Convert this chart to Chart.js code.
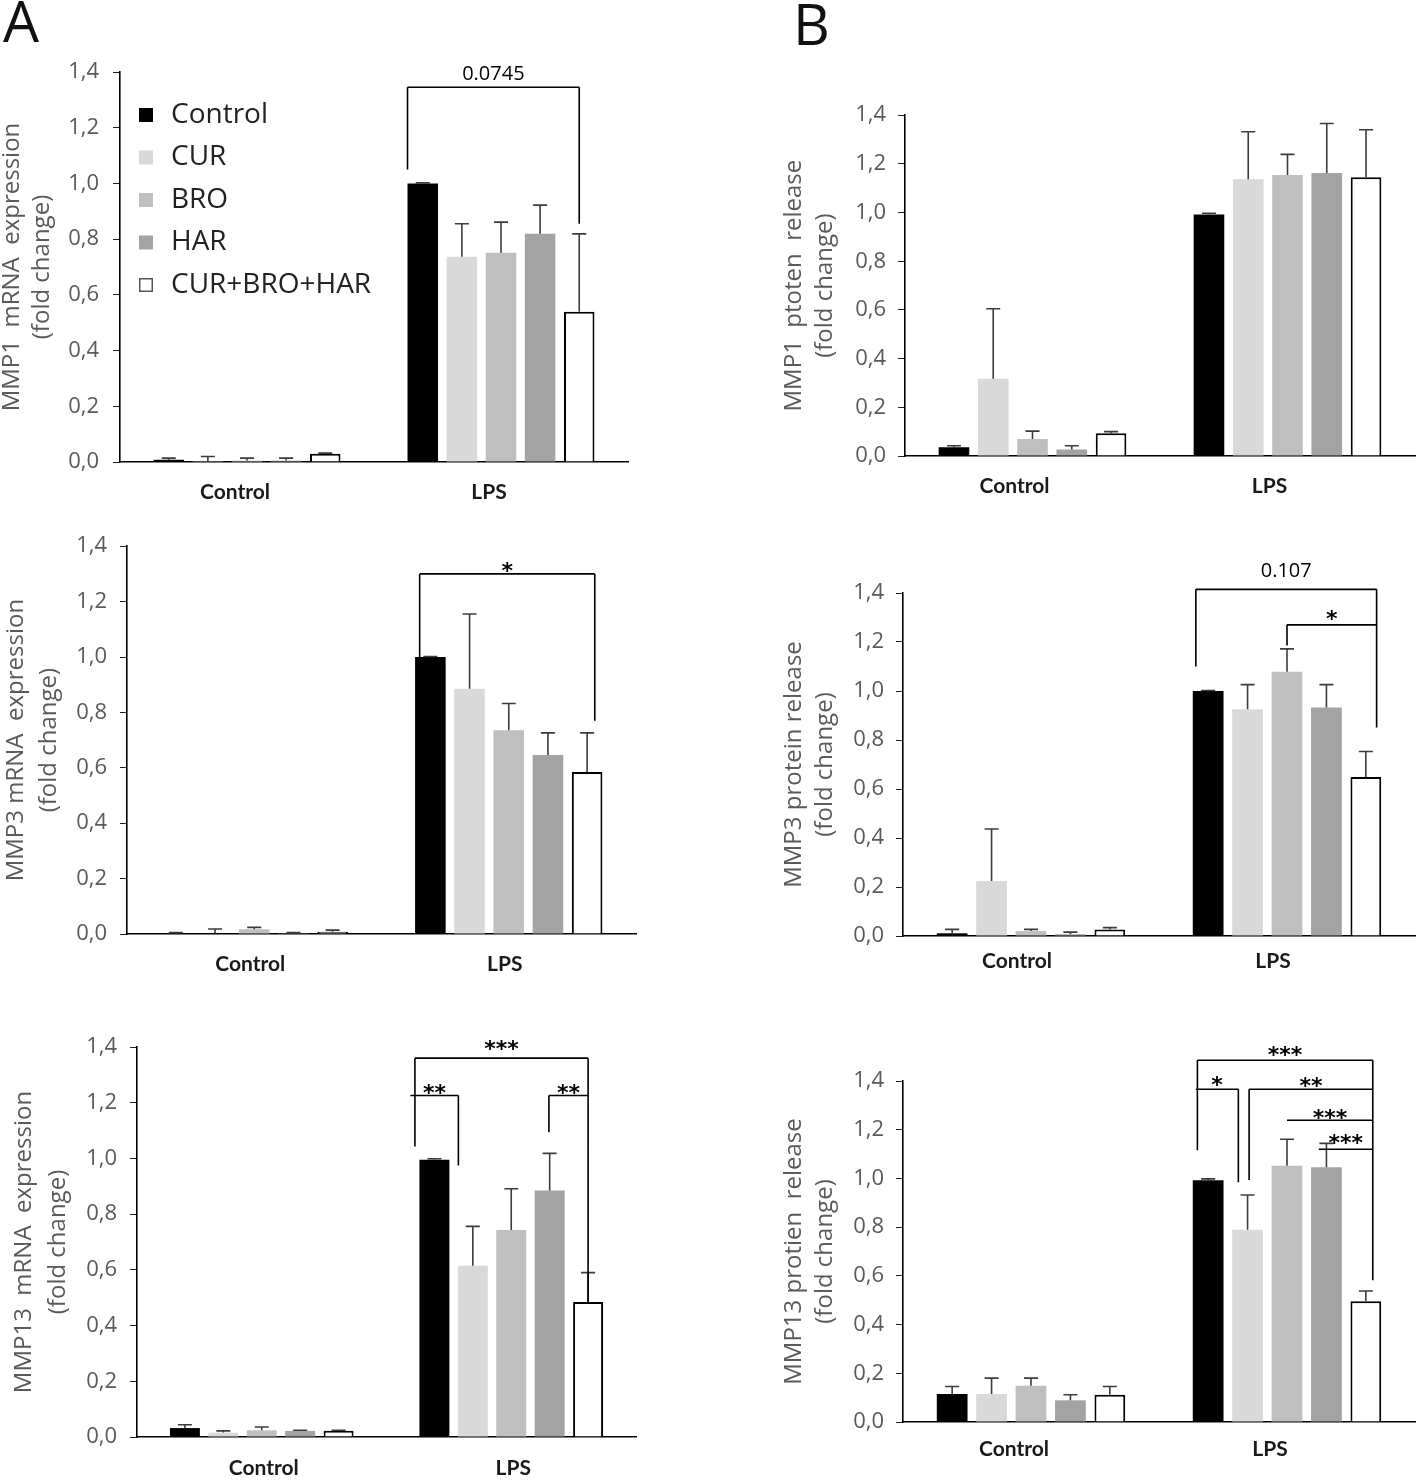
<!DOCTYPE html>
<html><head><meta charset="utf-8">
<script src="https://cdn.jsdelivr.net/npm/chart.js@4.4.1/dist/chart.umd.min.js"></script>
<style>
body{margin:0;background:#fff;width:1416px;height:1482px;position:relative;overflow:hidden;}
canvas{position:absolute;}
.lab{position:absolute;font-family:'Open Sans';font-size:57px;line-height:1;color:#111;}
</style></head><body>
<div class="lab" style="left:3px;top:-8px">A</div>
<div class="lab" style="left:793px;top:-5px">B</div>
<canvas id="a1"></canvas><canvas id="a2"></canvas><canvas id="a3"></canvas>
<canvas id="b1"></canvas><canvas id="b2"></canvas><canvas id="b3"></canvas>
<script>
// ---------- data ----------
const categories = ['Control', 'LPS'];
const seriesNames = ['Control', 'CUR', 'BRO', 'HAR', 'CUR+BRO+HAR'];
const yTickLabels = ['0,0', '0,2', '0,4', '0,6', '0,8', '1,0', '1,2', '1,4'];

// MMP1 mRNA expression (panel A, top)
const mmp1Mrna_ctrl    = [0.008, 0.003, 0.005, 0.005, 0.030];
const mmp1Mrna_ctrlSD  = [0.006, 0.017, 0.009, 0.009, 0.002];
const mmp1Mrna_lps     = [1.000, 0.737, 0.751, 0.819, 0.539];
const mmp1Mrna_lpsSD   = [0.002, 0.118, 0.110, 0.103, 0.280];

// MMP3 mRNA expression (panel A, middle)
const mmp3Mrna_ctrl    = [0.003, 0.002, 0.017, 0.003, 0.008];
const mmp3Mrna_ctrlSD  = [0.002, 0.016, 0.007, 0.002, 0.006];
const mmp3Mrna_lps     = [1.000, 0.885, 0.736, 0.646, 0.585];
const mmp3Mrna_lpsSD   = [0.002, 0.270, 0.096, 0.080, 0.141];

// MMP13 mRNA expression (panel A, bottom)
const mmp13Mrna_ctrl   = [0.032, 0.016, 0.024, 0.022, 0.022];
const mmp13Mrna_ctrlSD = [0.012, 0.006, 0.012, 0.002, 0.002];
const mmp13Mrna_lps    = [0.995, 0.615, 0.743, 0.885, 0.485];
const mmp13Mrna_lpsSD  = [0.004, 0.141, 0.148, 0.133, 0.105];

// MMP1 protein release (panel B, top)
const mmp1Prot_ctrl    = [0.036, 0.317, 0.070, 0.027, 0.093];
const mmp1Prot_ctrlSD  = [0.006, 0.288, 0.032, 0.015, 0.007];
const mmp1Prot_lps     = [0.992, 1.137, 1.154, 1.163, 1.145];
const mmp1Prot_lpsSD   = [0.005, 0.195, 0.085, 0.203, 0.195];

// MMP3 protein release (panel B, middle)
const mmp3Prot_ctrl    = [0.011, 0.225, 0.020, 0.007, 0.027];
const mmp3Prot_ctrlSD  = [0.016, 0.212, 0.007, 0.009, 0.007];
const mmp3Prot_lps     = [1.000, 0.926, 1.079, 0.933, 0.649];
const mmp3Prot_lpsSD   = [0.002, 0.100, 0.093, 0.093, 0.104];

// MMP13 protein release (panel B, bottom)
const mmp13Prot_ctrl   = [0.115, 0.115, 0.149, 0.089, 0.112];
const mmp13Prot_ctrlSD = [0.031, 0.065, 0.031, 0.023, 0.034];
const mmp13Prot_lps    = [0.993, 0.789, 1.052, 1.046, 0.496];
const mmp13Prot_lpsSD  = [0.005, 0.143, 0.109, 0.098, 0.042];

// Significance annotations (bar index within LPS group; y in data units)
const sigA1 = [{from:{bar:0,edge:-1}, to:{bar:4,edge:0}, y:1.345, legFrom:1.05, legTo:0.855, label:'0.0745', labelY:1.39}];
const sigA2 = [{from:{bar:0,edge:-0.7}, to:{bar:4,edge:0.5}, y:1.30, legFrom:1.0, legTo:0.77, label:'*', labelY:1.325}];
const sigA3 = [
  {from:{bar:0,edge:-1.3}, to:{bar:4,edge:0}, y:1.36, legFrom:1.043, legTo:0.485, label:'***', labelY:1.405},
  {from:{bar:0,edge:-1.6}, to:{bar:0,edge:1.6}, y:1.226, legFrom:null, legTo:0.975, label:'**', labelY:1.25},
  {from:{bar:3,edge:-0.05}, to:{bar:4,edge:0}, y:1.226, legFrom:1.094, legTo:null, label:'**', labelY:1.25}
];
const sigB1 = [];
const sigB2 = [
  {from:{bar:0,edge:-0.8}, to:{bar:4,edge:0.7}, y:1.415, legFrom:1.1, legTo:0.851, label:'0.107', labelY:1.49},
  {from:{bar:2,edge:0}, to:{bar:4,edge:0.7}, y:1.27, legFrom:1.186, legTo:null, label:'*', labelY:1.31}
];
const sigB3 = [
  {from:{bar:0,edge:-0.7}, to:{bar:4,edge:0.45}, y:1.485, legFrom:1.116, legTo:0.582, label:'***', labelY:1.52},
  {from:{bar:0,edge:-0.8}, to:{bar:1,edge:-0.6}, y:1.366, legFrom:null, legTo:0.984, label:'*', labelY:1.40},
  {from:{bar:1,edge:0.1}, to:{bar:4,edge:0.45}, y:1.366, legFrom:0.994, legTo:null, label:'**', labelY:1.395},
  {from:{bar:2,edge:0}, to:{bar:4,edge:0.45}, y:1.239, legFrom:null, legTo:null, label:'***', labelY:1.265},
  {from:{bar:3,edge:-0.5}, to:{bar:4,edge:0.45}, y:1.12, legFrom:null, legTo:null, label:'***', labelY:1.16}
];

// ---------- styles ----------
const barColors = ['#000000', '#d9d9d9', '#bfbfbf', '#a3a3a3', '#ffffff'];

// ---------- plugins ----------
const errorBarPlugin = {
  id: 'errorBars',
  afterDatasetsDraw(chart) {
    const ctx = chart.ctx, ys = chart.scales.y;
    ctx.save();
    ctx.strokeStyle = '#3c3c3c'; ctx.lineWidth = 1.6;
    chart.data.datasets.forEach((ds, i) => {
      chart.getDatasetMeta(i).data.forEach((el, j) => {
        const top = ys.getPixelForValue(ds.data[j] + ds.errors[j]);
        const x = el.x;
        ctx.beginPath();
        ctx.moveTo(x, el.y); ctx.lineTo(x, top);
        ctx.moveTo(x - 7, top); ctx.lineTo(x + 7, top);
        ctx.stroke();
      });
    });
    ctx.restore();
  }
};

const bracketPlugin = {
  id: 'brackets',
  afterDraw(chart, args, opts) {
    const items = opts.items || [];
    const ys = chart.scales.y, ctx = chart.ctx;
    const px = p => { const el = chart.getDatasetMeta(p.bar).data[1]; return el.x + p.edge * el.width / 2; };
    ctx.save();
    ctx.strokeStyle = '#000'; ctx.lineWidth = 1.6; ctx.fillStyle = '#000';
    ctx.textAlign = 'center'; ctx.textBaseline = 'middle';
    items.forEach(it => {
      const x1 = px(it.from), x2 = px(it.to), y = ys.getPixelForValue(it.y);
      ctx.beginPath();
      ctx.moveTo(x1, y); ctx.lineTo(x2, y);
      if (it.legFrom != null) { ctx.moveTo(x1, y); ctx.lineTo(x1, ys.getPixelForValue(it.legFrom)); }
      if (it.legTo != null) { ctx.moveTo(x2, y); ctx.lineTo(x2, ys.getPixelForValue(it.legTo)); }
      ctx.stroke();
      if (it.label) {
        const star = it.label.indexOf('*') === 0;
        ctx.font = star ? 'bold 22px "DejaVu Sans"' : '20px "Open Sans"';
        ctx.fillText(it.label, (x1 + x2) / 2, ys.getPixelForValue(it.labelY) + (star ? 5 : 0));
      }
    });
    ctx.restore();
  }
};

const innerLegendPlugin = {
  id: 'innerLegend',
  afterDraw(chart, args, opts) {
    if (!opts.show) return;
    const ctx = chart.ctx, a = chart.chartArea;
    ctx.save();
    ctx.font = '28px "Open Sans"'; ctx.textBaseline = 'middle'; ctx.textAlign = 'left';
    chart.data.datasets.forEach((ds, i) => {
      const cy = a.top + 43 + i * 42.5;
      const sx = a.left + 19;
      ctx.fillStyle = ds.backgroundColor;
      ctx.fillRect(sx, cy - 7, 14, 14);
      if (ds.borderWidth) { ctx.strokeStyle = '#555'; ctx.lineWidth = 1.5; ctx.strokeRect(sx + 0.75, cy - 6.25, 12.5, 12.5); }
      ctx.fillStyle = '#222';
      ctx.fillText(ds.label, a.left + 51, cy);
    });
    ctx.restore();
  }
};

// ---------- panels ----------
function makePanel(id, lay, title, ctrl, ctrlSD, lps, lpsSD, sig, legend) {
  const cv = document.getElementById(id);
  cv.width = lay.w; cv.height = lay.h;
  cv.style.left = lay.left + 'px'; cv.style.top = lay.top + 'px';
  cv.style.width = lay.w + 'px'; cv.style.height = lay.h + 'px';
  const datasets = seriesNames.map((name, s) => ({
    label: name,
    data: [ctrl[s], lps[s]],
    errors: [ctrlSD[s], lpsSD[s]],
    backgroundColor: barColors[s],
    borderColor: '#000',
    borderWidth: s === 4 ? 2 : 0,
    categoryPercentage: 0.77,
    barPercentage: 0.78
  }));
  new Chart(cv, {
    type: 'bar',
    data: { labels: categories, datasets },
    plugins: [errorBarPlugin, bracketPlugin, innerLegendPlugin],
    options: {
      responsive: false, animation: false, devicePixelRatio: 1,
      layout: { padding: { left: 0, top: lay.padTop, right: lay.padRight, bottom: 0 } },
      plugins: {
        legend: { display: false }, tooltip: { enabled: false },
        brackets: { items: sig }, innerLegend: { show: legend }
      },
      scales: {
        x: {
          grid: { display: false, drawTicks: false },
          border: { display: true, color: '#000', width: 1.6 },
          ticks: { color: '#1a1a1a', padding: lay.xPad, labelOffset: lay.lOff,
                   font: { family: 'Lato', weight: 'bold', size: 21 } },
          afterFit: s => { s.height = lay.xH; }
        },
        y: {
          min: 0, max: 1.4,
          grid: { display: true, drawOnChartArea: false, drawTicks: true, tickLength: 7, color: '#222' },
          border: { display: true, color: '#000', width: 1.6 },
          ticks: { stepSize: 0.2, color: '#5a5a5a', padding: lay.tkPad, font: { family: 'Open Sans', size: 22 },
                   callback: (v, i) => yTickLabels[i] },
          title: { display: true, text: title, color: '#5a5a5a',
                   font: { family: 'Open Sans', size: 24, lineHeight: lay.lh },
                   padding: { top: lay.tPad, bottom: 0 } },
          afterFit: s => { s.width = lay.yW; }
        }
      }
    }
  });
}

makePanel('a1', {left:0, top:40, w:640, h:480, padTop:32, padRight:12, yW:120, xH:58, tPad:-3, lh:30/24, xPad:18, lOff:-12, tkPad:14},
  ['MMP1  mRNA  expression', '(fold change)'], mmp1Mrna_ctrl, mmp1Mrna_ctrlSD, mmp1Mrna_lps, mmp1Mrna_lpsSD, sigA1, true);
makePanel('a2', {left:0, top:520, w:640, h:480, padTop:24, padRight:4, yW:127, xH:66, tPad:0, lh:33/24, xPad:18, lOff:-4, tkPad:13},
  ['MMP3 mRNA  expression', '(fold change)'], mmp3Mrna_ctrl, mmp3Mrna_ctrlSD, mmp3Mrna_lps, mmp3Mrna_lpsSD, sigA2, false);
makePanel('a3', {left:0, top:1010, w:640, h:472, padTop:37, padRight:4, yW:137, xH:45, tPad:7, lh:34/24, xPad:19, lOff:2, tkPad:13},
  ['MMP13  mRNA  expression', '(fold change)'], mmp13Mrna_ctrl, mmp13Mrna_ctrlSD, mmp13Mrna_lps, mmp13Mrna_lpsSD, sigA3, false);
makePanel('b1', {left:780, top:90, w:636, h:420, padTop:25, padRight:1, yW:125, xH:54, tPad:-1, lh:31/24, xPad:18, lOff:-18, tkPad:12},
  ['MMP1  ptoten  release', '(fold change)'], mmp1Prot_ctrl, mmp1Prot_ctrlSD, mmp1Prot_lps, mmp1Prot_lpsSD, sigB1, false);
makePanel('b2', {left:780, top:550, w:636, h:440, padTop:43, padRight:1, yW:123, xH:54, tPad:-1, lh:31/24, xPad:13, lOff:-14, tkPad:12},
  ['MMP3 protein release', '(fold change)'], mmp3Prot_ctrl, mmp3Prot_ctrlSD, mmp3Prot_lps, mmp3Prot_lpsSD, sigB2, false);
makePanel('b3', {left:780, top:1030, w:636, h:452, padTop:51, padRight:1, yW:123, xH:60, tPad:-1, lh:31/24, xPad:15, lOff:-17, tkPad:12},
  ['MMP13 protien  release', '(fold change)'], mmp13Prot_ctrl, mmp13Prot_ctrlSD, mmp13Prot_lps, mmp13Prot_lpsSD, sigB3, false);
</script>
</body></html>
